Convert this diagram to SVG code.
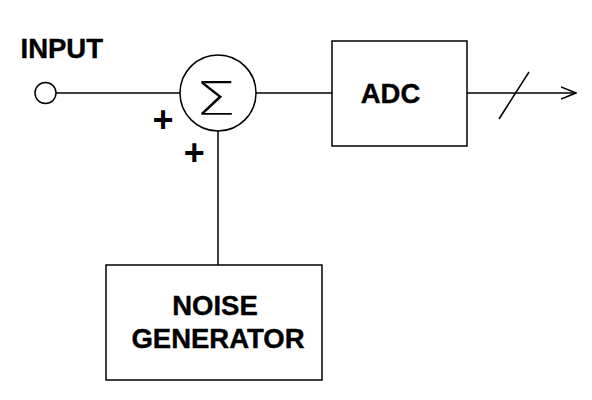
<svg xmlns="http://www.w3.org/2000/svg" width="592" height="400" viewBox="0 0 592 400">
<style>
.ln{fill:none;stroke:#000;stroke-width:1.5}
.box{fill:#fff;stroke:#000;stroke-width:1.5}
.lbl{font-family:"Liberation Sans",Arial,sans-serif;font-weight:bold;font-size:27.5px;fill:#000;stroke:#000;stroke-width:0.4}
.plus{font-family:"Liberation Sans",Arial,sans-serif;font-weight:bold;font-size:36px;fill:#000}
.sig{font-family:"DejaVu Sans",sans-serif;font-weight:200;font-size:47px;fill:#000}
</style>
<defs>
<marker id="arr" markerWidth="16" markerHeight="14" refX="15" refY="7" orient="auto" markerUnits="userSpaceOnUse">
<path d="M0,1 L15,7 L0,13" fill="none" stroke="#000" stroke-width="1.5"/>
</marker>
</defs>
<rect width="592" height="400" fill="#fff"/>
<g id="connectors">
<line class="ln" x1="56" y1="93" x2="180" y2="93"/>
<line class="ln" x1="256" y1="93" x2="332" y2="93"/>
<line class="ln" x1="218" y1="131" x2="218" y2="265"/>
<line class="ln" x1="467" y1="93" x2="576" y2="93" marker-end="url(#arr)"/>
<line class="ln" x1="499" y1="119" x2="529" y2="72"/>
</g>
<g id="input">
<circle class="box" cx="45.5" cy="93" r="10.5"/>
<text class="lbl" x="20.5" y="58">INPUT</text>
</g>
<g id="summer">
<circle class="box" cx="218" cy="93" r="38"/>
<text class="sig" transform="translate(215.5,115) scale(1.38,1)" text-anchor="middle">Σ</text>
<text class="plus" x="163" y="132" text-anchor="middle">+</text>
<text class="plus" x="194.3" y="165" text-anchor="middle">+</text>
</g>
<g id="adc">
<rect class="box" x="332" y="41" width="135" height="105"/>
<text class="lbl" x="390.5" y="103" text-anchor="middle">ADC</text>
</g>
<g id="noise">
<rect class="box" x="106" y="265" width="216" height="115"/>
<text class="lbl" x="215" y="315" text-anchor="middle">NOISE</text>
<text class="lbl" x="218" y="348" text-anchor="middle">GENERATOR</text>
</g>
</svg>
